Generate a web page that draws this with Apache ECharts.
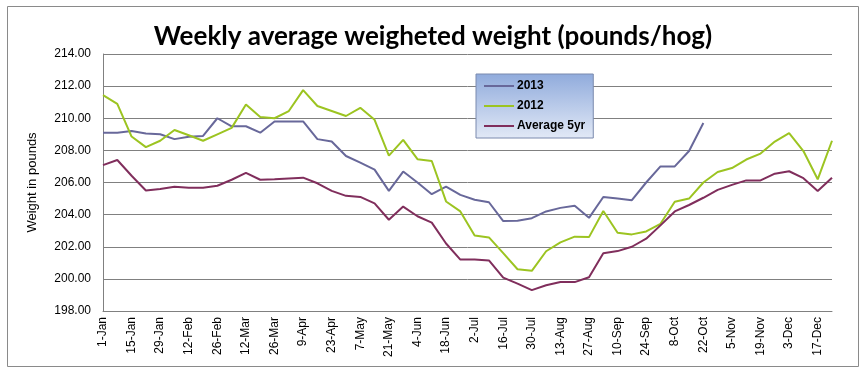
<!DOCTYPE html>
<html><head><meta charset="utf-8">
<script src="https://cdn.jsdelivr.net/npm/echarts@6/dist/echarts.min.js"></script>
<style>html,body{margin:0;padding:0;background:#fff}#c{width:866px;height:373px}</style>
</head><body><div id="c"></div>
<script>
const categories = ["1-Jan","8-Jan","15-Jan","22-Jan","29-Jan","5-Feb","12-Feb","19-Feb","26-Feb","5-Mar","12-Mar","19-Mar","26-Mar","2-Apr","9-Apr","16-Apr","23-Apr","30-Apr","7-May","14-May","21-May","28-May","4-Jun","11-Jun","18-Jun","25-Jun","2-Jul","9-Jul","16-Jul","23-Jul","30-Jul","6-Aug","13-Aug","20-Aug","27-Aug","3-Sep","10-Sep","17-Sep","24-Sep","1-Oct","8-Oct","15-Oct","22-Oct","29-Oct","5-Nov","12-Nov","19-Nov","26-Nov","3-Dec","10-Dec","17-Dec","24-Dec"];
const s2013 = [209.1,209.1,209.2,209.05,209.0,208.7,208.85,208.9,210.0,209.5,209.5,209.1,209.8,209.8,209.8,208.7,208.55,207.65,207.24,206.8,205.48,206.68,206.0,205.27,205.75,205.23,204.93,204.77,203.6,203.62,203.78,204.2,204.42,204.55,203.8,205.1,205.0,204.9,206.0,207.0,207.0,207.96,209.7,null,null,null,null,null,null,null,null,null];
const s2012 = [211.44,210.9,208.86,208.2,208.6,209.27,208.94,208.6,209.0,209.4,210.86,210.08,210.0,210.45,211.75,210.76,210.45,210.14,210.65,209.9,207.67,208.65,207.45,207.34,204.82,204.2,202.7,202.58,201.6,200.6,200.5,201.72,202.27,202.63,202.6,204.23,202.87,202.77,202.95,203.43,204.8,205.0,206.0,206.65,206.9,207.43,207.8,208.55,209.07,207.96,206.2,208.6];
const sAvg = [207.08,207.4,206.42,205.5,205.6,205.74,205.68,205.68,205.8,206.17,206.6,206.17,206.2,206.25,206.3,205.95,205.48,205.17,205.1,204.7,203.68,204.5,203.9,203.5,202.2,201.2,201.2,201.15,200.08,199.7,199.3,199.6,199.8,199.8,200.1,201.6,201.73,202.0,202.5,203.33,204.2,204.6,205.05,205.54,205.85,206.13,206.13,206.55,206.7,206.27,205.47,206.3];
const yTicks = {min:198, max:214, step:2};

const chart = echarts.init(document.getElementById('c'));
const lineStyle = (c) => ({color:c, width:2});
chart.setOption({
  animation:false,
  title:{text:'Weekly average weigheted weight (pounds/hog)', left:'center', top:19,
    textStyle:{fontFamily:'Lato', fontWeight:'bold', fontSize:26, color:'#000'}},
  graphic:[{type:'rect', shape:{x:7.5,y:6.5,width:851,height:360}, style:{fill:'none', stroke:'#8a8a8a', lineWidth:1}, silent:true}],
  legend:{orient:'vertical', left:476, top:74, padding:[6,8,6,8], itemGap:8,
    icon:'rect', itemWidth:30, itemHeight:2,
    backgroundColor:{type:'linear',x:0,y:0,x2:0,y2:1,colorStops:[{offset:0,color:'#90abdc'},{offset:1,color:'#e2e9f6'}]},
    borderColor:'#7b8aae', borderWidth:1,
    textStyle:{fontFamily:'Liberation Sans', fontWeight:'bold', fontSize:12, color:'#000', padding:[0,0,0,-2]},
    data:['2013','2012','Average 5yr']},
  grid:{left:103, right:34, top:54, bottom:62},
  xAxis:{type:'category', data:categories, boundaryGap:false,
    axisLine:{lineStyle:{color:'#808080'}}, axisTick:{show:false},
    axisLabel:{interval:1, rotate:90, fontFamily:'Liberation Sans', fontSize:12, color:'#000', margin:6}},
  yAxis:{type:'value', min:yTicks.min, max:yTicks.max, interval:yTicks.step,
    name:'Weight in pounds', nameLocation:'middle', nameRotate:90, nameGap:64,
    nameTextStyle:{fontFamily:'Liberation Sans', fontSize:13, color:'#000'},
    axisLine:{show:true, lineStyle:{color:'#808080'}}, axisTick:{show:false},
    splitLine:{lineStyle:{color:'#808080', width:1}},
    axisLabel:{formatter:v=>v.toFixed(2), fontFamily:'Liberation Sans', fontSize:12, color:'#000', margin:12}},
  series:[
    {name:'2013', type:'line', data:s2013, symbol:'none', lineStyle:lineStyle('#68689a'), itemStyle:{color:'#68689a'}},
    {name:'2012', type:'line', data:s2012, symbol:'none', lineStyle:lineStyle('#9cc421'), itemStyle:{color:'#9cc421'}},
    {name:'Average 5yr', type:'line', data:sAvg, symbol:'none', lineStyle:lineStyle('#802e5c'), itemStyle:{color:'#802e5c'}}
  ]
});
</script></body></html>
